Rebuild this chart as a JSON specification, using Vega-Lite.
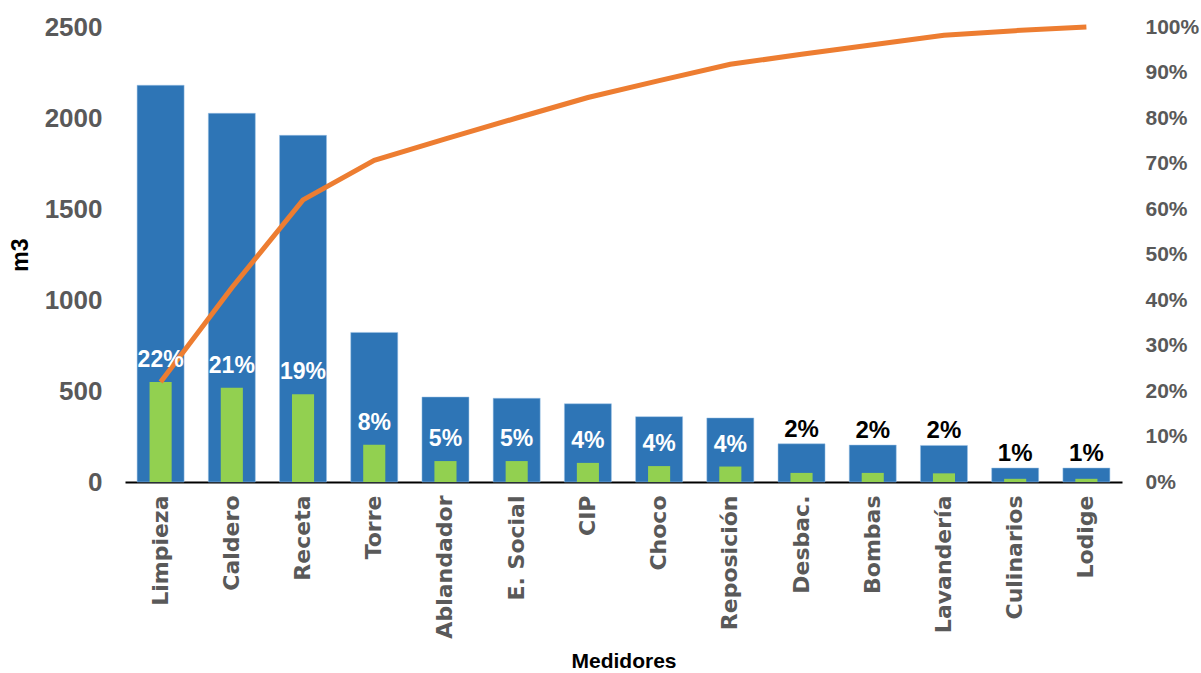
{
  "$schema": "https://vega.github.io/schema/vega-lite/v6.json",
  "width": 997,
  "height": 455,
  "autosize": "none",
  "padding": {"left": 125, "top": 27, "right": 79, "bottom": 191},
  "background": "white",
  "config": {"view": {"stroke": null}, "font": "Liberation Sans"},
  "data": {
    "values": [
      {"cat": "Limpieza", "m3": 2180, "pct": 0.22, "cum": 0.22, "lbl": "22%"},
      {"cat": "Caldero", "m3": 2026, "pct": 0.207, "cum": 0.427, "lbl": "21%"},
      {"cat": "Receta", "m3": 1905, "pct": 0.193, "cum": 0.62, "lbl": "19%"},
      {"cat": "Torre", "m3": 822, "pct": 0.082, "cum": 0.707, "lbl": "8%"},
      {"cat": "Ablandador", "m3": 467, "pct": 0.046, "cum": 0.754, "lbl": "5%"},
      {"cat": "E. Social", "m3": 460, "pct": 0.046, "cum": 0.8, "lbl": "5%"},
      {"cat": "CIP", "m3": 430, "pct": 0.042, "cum": 0.845, "lbl": "4%"},
      {"cat": "Choco", "m3": 359, "pct": 0.035, "cum": 0.882, "lbl": "4%"},
      {"cat": "Reposición", "m3": 352, "pct": 0.034, "cum": 0.918, "lbl": "4%"},
      {"cat": "Desbac.", "m3": 210, "pct": 0.02, "cum": 0.94, "lbl": "2%"},
      {"cat": "Bombas", "m3": 203, "pct": 0.02, "cum": 0.961, "lbl": "2%"},
      {"cat": "Lavandería", "m3": 201, "pct": 0.019, "cum": 0.982, "lbl": "2%"},
      {"cat": "Culinarios", "m3": 77, "pct": 0.007, "cum": 0.992, "lbl": "1%"},
      {"cat": "Lodige", "m3": 77, "pct": 0.007, "cum": 1.0, "lbl": "1%"}
    ]
  },
  "encoding": {
    "x": {
      "field": "cat",
      "type": "nominal",
      "sort": null,
      "scale": {"paddingInner": 0.34, "paddingOuter": 0.17},
      "title": "Medidores",
      "axis": {
        "labelAngle": -90,
        "labelFont": "DejaVu Sans",
        "labelFontWeight": "bold",
        "labelFontSize": 22,
        "labelColor": "#595959",
        "labelPadding": 13,
        "ticks": false,
        "domainColor": "#000000",
        "domainWidth": 2,
        "titleFont": "Liberation Sans",
        "titleFontWeight": "bold",
        "titleFontSize": 21,
        "titleColor": "#000000",
        "titlePadding": 12
      }
    }
  },
  "layer": [
    {
      "encoding": {
        "y": {
          "field": "m3",
          "type": "quantitative",
          "scale": {"domain": [0, 2500]},
          "title": "m3",
          "axis": {
            "orient": "left",
            "format": "d",
            "values": [0, 500, 1000, 1500, 2000, 2500],
            "grid": false,
            "domain": false,
            "ticks": false,
            "labelFontSize": 26,
            "labelFontWeight": "bold",
            "labelColor": "#595959",
            "labelPadding": 23,
            "titleFontSize": 23,
            "titleFontWeight": "bold",
            "titleColor": "#000000",
            "titlePadding": 12
          }
        }
      },
      "layer": [
        {"mark": {"type": "bar", "color": "#2E75B6", "stroke": "#9DC3E6", "strokeWidth": 0.5}},
        {
          "transform": [{"filter": "datum.m3 < 300"}],
          "mark": {"type": "text", "fontSize": 24, "fontWeight": "bold", "color": "#000000", "dy": -7, "baseline": "alphabetic"},
          "encoding": {"text": {"field": "lbl"}}
        }
      ]
    },
    {
      "layer": [
        {
          "mark": {"type": "bar", "color": "#92D050", "width": {"band": 0.47}},
          "encoding": {
            "y": {
              "field": "pct",
              "type": "quantitative",
              "scale": {"domain": [0, 1]},
              "title": null,
              "axis": {
                "orient": "right",
                "format": ".0%",
                "values": [0, 0.1, 0.2, 0.3, 0.4, 0.5, 0.6, 0.7, 0.8, 0.9, 1],
                "grid": false,
                "domain": false,
                "ticks": false,
                "labelFontSize": 21,
                "labelFontWeight": "bold",
                "labelColor": "#595959",
                "labelPadding": 23
              }
            }
          }
        },
        {
          "mark": {"type": "line", "color": "#ED7D31", "strokeWidth": 5},
          "encoding": {"y": {"field": "cum", "type": "quantitative"}}
        },
        {
          "transform": [{"filter": "datum.m3 >= 300"}],
          "mark": {"type": "text", "fontSize": 23, "fontWeight": "bold", "color": "#FFFFFF", "dy": -15, "baseline": "alphabetic"},
          "encoding": {"y": {"field": "pct", "type": "quantitative"}, "text": {"field": "lbl"}}
        }
      ]
    }
  ],
  "resolve": {"scale": {"y": "independent"}}
}
